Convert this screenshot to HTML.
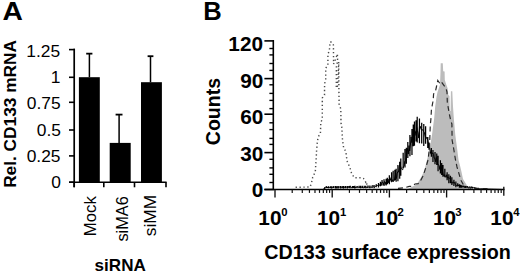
<!DOCTYPE html>
<html><head><meta charset="utf-8"><style>
html,body{margin:0;padding:0;background:#fff;width:520px;height:273px;overflow:hidden}
svg{display:block;font-family:"Liberation Sans", sans-serif}
</style></head><body>
<svg width="520" height="273" viewBox="0 0 520 273" font-family='"Liberation Sans", sans-serif'><rect x="78.9" y="77.2" width="20.9" height="105" fill="#000"/>
<line x1="89.4" y1="77.2" x2="89.4" y2="53.65" stroke="#000" stroke-width="1.5"/>
<line x1="86.2" y1="53.65" x2="92.4" y2="53.65" stroke="#000" stroke-width="1.8"/>
<rect x="109.7" y="142.9" width="21" height="39.3" fill="#000"/>
<line x1="119.1" y1="142.9" x2="119.1" y2="114.6" stroke="#000" stroke-width="1.5"/>
<line x1="115.6" y1="114.6" x2="122.5" y2="114.6" stroke="#000" stroke-width="1.8"/>
<rect x="141" y="82.2" width="20.9" height="100" fill="#000"/>
<line x1="150.5" y1="82.2" x2="150.5" y2="56.2" stroke="#000" stroke-width="1.5"/>
<line x1="147.6" y1="56.2" x2="153.4" y2="56.2" stroke="#000" stroke-width="1.8"/>
<line x1="74.2" y1="48.7" x2="74.2" y2="187.2" stroke="#000" stroke-width="1.7"/>
<line x1="69" y1="49.6" x2="75" y2="49.6" stroke="#000" stroke-width="1.6"/>
<line x1="69" y1="77.3" x2="75" y2="77.3" stroke="#000" stroke-width="1.6"/>
<line x1="69" y1="102.3" x2="75" y2="102.3" stroke="#000" stroke-width="1.6"/>
<line x1="69" y1="130" x2="75" y2="130" stroke="#000" stroke-width="1.6"/>
<line x1="69" y1="155.9" x2="75" y2="155.9" stroke="#000" stroke-width="1.6"/>
<line x1="69" y1="182.2" x2="75" y2="182.2" stroke="#000" stroke-width="1.6"/>
<line x1="69.2" y1="182.2" x2="166.6" y2="182.2" stroke="#000" stroke-width="1.6"/>
<line x1="74.2" y1="182.2" x2="74.2" y2="187.3" stroke="#000" stroke-width="1.6"/>
<line x1="103.8" y1="182.2" x2="103.8" y2="187.3" stroke="#000" stroke-width="1.6"/>
<line x1="134.5" y1="182.2" x2="134.5" y2="187.3" stroke="#000" stroke-width="1.6"/>
<line x1="166" y1="182.2" x2="166" y2="187.3" stroke="#000" stroke-width="1.6"/>
<text transform="translate(26.25,56.7)" font-size="17.40">1.25</text>
<text transform="translate(50.77,83.17)" font-size="17.40">1</text>
<text transform="translate(26.85,109)" font-size="17.40">0.75</text>
<text transform="translate(36.81,135.6)" font-size="17.40">0.5</text>
<text transform="translate(26.65,161.6)" font-size="17.40">0.25</text>
<text transform="translate(51.3,188)" font-size="17.40">0</text>
<text transform="translate(95.54,236.28) rotate(-90) scale(1.0226,1)" font-size="16.40">Mock</text>
<text transform="translate(127.54,241.55) rotate(-90) scale(0.9954,1)" font-size="16.40">siMA6</text>
<text transform="translate(155.54,236.18) rotate(-90) scale(1.0575,1)" font-size="16.40">siMM</text>
<text transform="translate(94.6,270.63) scale(0.9890,1)" font-size="17.28" font-weight="bold">siRNA</text>
<text transform="translate(15.59,187.87) rotate(-90) scale(1.0169,1)" font-size="17.00" font-weight="bold">Rel. CD133 mRNA</text>
<text transform="translate(2.39,19.5) scale(1.0932,1)" font-size="25.80" font-weight="bold">A</text>
<text transform="translate(203.27,19.9) scale(0.9660,1)" font-size="26.47" font-weight="bold">B</text>
<path d="M408 189.5L408 189L410.8 187.5L415 185.3L418 182.5L421 177.6L424.2 171L427 160L429.5 150L432 135L433.3 125L434.2 118L435.2 106.5L436.5 97L437.5 92L438.8 88.3L440 84.7L440.5 72L440.7 63.2L442.8 63.2L443.2 71.3L444.6 71.5L444.8 80L446.4 85L447.6 88.3L448.3 95L449.5 96L449.8 111L450.6 111L450.9 91.2L452.3 91.2L453 106.5L453.8 118L454.4 125L455.3 135L457.3 150L458.5 160L460 165.4L461.5 172L463 179L467 185.5L469 187.2L472 188.3L476 189.2L476 189.5Z" fill="#bcbcbc"/>
<path d="M276 189.5V189.5M277.88 189.5V189.5M280.19 189.5V189.5M282.52 189.5V189.5M284.29 189.5V189.5M285.57 189.5V189.5M287.33 189.5V189.5M289.71 189.5V189.5M291.44 189.5V189.5M292.84 189.5V189.5M294.11 189.5V189.5M295.32 189.5V189.5M296.61 189.5V189.5M298.88 189.5V189.5M300.24 189.5V189.5M302.52 189.5V189.5M303.64 189.5V189.5M305.34 189.5V189.5M306.48 189.5V189.5M307.98 189.5V189.5M309.31 189.5V189.5M311.02 189.5V189.5M312.37 189.5V189.5M314.63 189.5V189.5M315.98 189.5V189.5M317.46 189.5V189.5M319.67 189.5V189.5M321.11 189.5V189.5M322.65 189.5V189.5M324.72 187.23V188.91M326.35 186.24V188.06M328.41 186.26V188.19M330.41 186.28V187.97M331.7 186.23V188.57M333.38 186.24V187.97M335.47 186.04V188.38M336.78 186.23V188.55M338.2 186.07V188.61M340.43 186.09V188.52M342.18 185.94V188.15M343.58 185.91V188.54M345.4 186.02V188.36M347.34 185.92V188.52M348.85 185.91V187.85M350.1 185.82V188.14M352.45 185.98V188.01M353.64 185.95V188.02M354.92 185.86V188.56M357.06 185.9V187.89M359.15 185.78V187.87M360.58 185.74V188.18M362.32 185.75V187.98M364.21 185.67V187.92M365.77 185.73V188.18M367.91 185.58V187.91M369.89 185.53V188.14M372.26 185.2V188.02M374.07 184.97V188.14M376.21 184.16V187.28M378.48 183.07V187.39M380.42 181.74V186.29M382.02 180.07V185.52M384.02 179.36V185.88M386.14 178.85V185.47M387.32 177.74V184.3M389.34 175.18V184.27M391.58 172.23V181.8M393.17 170.81V182.11M394.86 169.73V180.32M396.14 168.87V181.76M397.92 165.04V181.16M399.69 161.7V178.86M400.8 158.4V175.79M403.17 152.75V168.06M404.97 148.98V167.41M406.34 147.75V163.68M407.81 142.01V157.92M409.91 134.99V156.33M411.97 128.93V155.1M413.27 124.41V146.3M414.46 121.55V145.75M416.07 120.27V141.4M417.2 116.84V142.46M419.44 118.42V143.18M421.7 122.66V143.54M423.77 124.09V145.88M425.61 126.3V143.82M427.77 136.91V147.95M429.02 142.53V149.85M431.38 148V156.67M432.96 149.9V162.05M435 152.08V164.21M436.75 153.45V165.11M438.07 155.79V171.27M440.39 160.36V173.47M441.7 163.08V174.93M442.97 164.97V176.65M444.83 168.64V177.18M447.11 172.34V180.22M448.83 174.23V183.2M450.45 175.67V183.26M451.87 177.25V184.92M453.91 179.67V186.09M455.86 181.44V187.37M457.73 183.15V186.37M459.37 184.22V187.72M460.51 184.84V187.64M461.7 185.15V187.65M463.23 185.5V187.39M464.81 185.67V187.82M465.91 185.9V188.1M467.52 186.07V188.01M469.43 186.41V187.84M470.99 186.56V188.26M472.37 186.75V188.14M474.69 187.26V188.26M475.96 187.81V188.67M477.6 188.61V188.76M479.36 188.68V188.83M481.34 188.73V188.88M483.38 188.81V188.93M484.87 188.86V188.98M486.01 188.9V189.02M488.16 188.97V189.05M489.54 189.02V189.1M491.04 189.07V189.16M492.64 189.12V189.2M494.93 189.2V189.26M496.91 189.28V189.31M498.5 189.33V189.35M500.4 189.39V189.41M502.48 189.47V189.47" fill="none" stroke="#000" stroke-width="1.25"/>
<path d="M276 189.5L276.7 189.5L277.4 189.5L278.1 189.5L278.8 189.5L279.5 189.5L280.2 189.5L280.9 189.5L281.6 189.5L282.3 189.5L283 189.5L283.7 189.5L284.4 189.5L285.1 189.5L285.8 189.5L286.5 189.5L287.2 189.5L287.9 189.5L288.6 189.5L289.3 189.5L290 189.5L290.7 189.5L291.4 189.5L292.1 189.5L292.8 189.5L293.5 189.5L294.2 189.5L294.9 189.5L295.6 189.5L296.3 189.5L297 189.5L297.7 189.5L298.4 189.5L299.1 189.5L299.8 189.5L300.5 189.5L301.2 189.5L301.9 189.5L302.6 189.5L303.3 189.5L304 189.5L304.7 189.5L305.4 189.5L306.1 189.5L306.8 189.5L307.5 189.5L308.2 189.5L308.9 189.5L309.6 189.5L310.3 189.5L311 189.5L311.7 189.5L312.4 189.5L313.1 189.5L313.8 189.5L314.5 189.5L315.2 189.5L315.9 189.5L316.6 189.5L317.3 189.5L318 189.5L318.7 189.5L319.4 189.5L320.1 189.5L320.8 189.5L321.5 189.5L322.2 189.5L322.9 189.5L323.6 188.91L324.3 188.26L325 187.72L325.7 186.97L326.4 187L327.1 186.83L327.8 187.98L328.5 187.24L329.2 187.57L329.9 187.35L330.6 187.71L331.3 187.79L332 187.23L332.7 187.42L333.4 186.85L334.1 187.09L334.8 187L335.5 187.1L336.2 187.11L336.9 187.44L337.6 187.11L338.3 187.09L339 187.76L339.7 186.66L340.4 186.64L341.1 186.7L341.8 187.78L342.5 187.46L343.2 187.59L343.9 187.9L344.6 186.87L345.3 187.83L346 186.89L346.7 187.27L347.4 187.49L348.1 187.64L348.8 186.87L349.5 187.18L350.2 186.57L350.9 186.9L351.6 187.88L352.3 187.77L353 187.31L353.7 187.59L354.4 187.75L355.1 186.94L355.8 187.85L356.5 187.09L357.2 186.67L357.9 187.19L358.6 187.27L359.3 187.4L360 187.36L360.7 186.47L361.4 187.3L362.1 187.68L362.8 187.31L363.5 187.73L364.2 187.05L364.9 187.46L365.6 186.48L366.3 187.55L367 186.87L367.7 187.49L368.4 186.66L369.1 187.09L369.8 187.4L370.5 187.17L371.2 187L371.9 187.51L372.6 186.08L373.3 186.05L374 186.74L374.7 187.25L375.4 186.59L376.1 185.63L376.8 184.94L377.5 185.48L378.2 185.34L378.9 185.1L379.6 185.3L380.3 184.01L381 185.56L381.7 183.15L382.4 181.99L383.1 182.55L383.8 184.94L384.5 181.58L385.2 181.97L385.9 184.55L386.6 181.92L387.3 183.53L388 179.08L388.7 182.86L389.4 178.63L390.1 177.74L390.8 180.74L391.5 181.94L392.2 181.4L392.9 179.62L393.6 180.39L394.3 180.57L395 176.98L395.7 173.43L396.4 178.48L397.1 173.82L397.8 171.71L398.5 172.01L399.2 166.38L399.9 165.06L400.6 166.37L401.3 168.69L402 169.15L402.7 169.82L403.4 166.52L404.1 166.1L404.8 161.23L405.5 160.85L406.2 157.95L406.9 151.17L407.6 148.51L408.3 154.1L409 145.58L409.7 150.91L410.4 145L411.1 136.92L411.8 142.58L412.5 138.99L413.2 131.54L413.9 132.23L414.6 131.72L415.3 131.23L416 135.48L416.7 127.27L417.4 130.59L418.1 132.97L418.8 138.11L419.5 125.52L420.2 126.09L420.9 128.86L421.6 129.99L422.3 130L423 129.56L423.7 131.72L424.4 132.5L425.1 136.12L425.8 139.11L426.5 137.36L427.2 137.51L427.9 140.79L428.6 144.88L429.3 146.13L430 149.62L430.7 153.62L431.4 154.54L432.1 152.95L432.8 153.06L433.5 154.43L434.2 158.23L434.9 158.4L435.6 161.72L436.3 157.47L437 159.6L437.7 164.57L438.4 164.72L439.1 165.42L439.8 169.57L440.5 164.64L441.2 166.48L441.9 170.3L442.6 171.42L443.3 175.24L444 176.18L444.7 174.69L445.4 176.73L446.1 177.29L446.8 174.75L447.5 178.23L448.2 177.36L448.9 178.45L449.6 178.11L450.3 178.04L451 182.75L451.7 182.56L452.4 183.17L453.1 181.76L453.8 182.77L454.5 182.41L455.2 184.35L455.9 185.41L456.6 185.53L457.3 186.16L458 184.83L458.7 186.03L459.4 185.17L460.1 186.18L460.8 185.79L461.5 186.57L462.2 186.67L462.9 186.49L463.6 186.59L464.3 187.17L465 186.96L465.7 186.94L466.4 186.65L467.1 186.94L467.8 187.65L468.5 187.84L469.2 187.22L469.9 187.81L470.6 187.86L471.3 187.23L472 187.34L472.7 187.81L473.4 187.49L474.1 188.16L474.8 187.85L475.5 188.27L476.2 188.41L476.9 188.46L477.6 188.73L478.3 188.7L479 188.71L479.7 188.72L480.4 188.78L481.1 188.82L481.8 188.81L482.5 188.87L483.2 188.85L483.9 188.92L484.6 188.88L485.3 188.92L486 188.94L486.7 188.98L487.4 188.99L488.1 189.02L488.8 189.06L489.5 189.07L490.2 189.09L490.9 189.1L491.6 189.14L492.3 189.15L493 189.18L493.7 189.21L494.4 189.22L495.1 189.24L495.8 189.25L496.5 189.29L497.2 189.31L497.9 189.33L498.6 189.34L499.3 189.37L500 189.4L500.7 189.41L501.4 189.44L502.1 189.46L502.8 189.48" fill="none" stroke="#000" stroke-width="1.0" stroke-linejoin="round"/>
<path d="M398 188.4L405 187.6L409.2 186.4L411.6 186.4L415 184L418.2 183.6L420.4 180.9L423.1 175.9L426 167L428 160L429.5 148L429.9 135L430.3 125L431 118L431.4 110L433.2 100L433.6 94L435.5 91L436.4 87L437.8 80.5L440 83.7L441.4 81.9L443.7 85.1L446 88.3L447 92L447.3 102L449.1 112.9L450.6 120L451.9 124L452.1 140L453.9 150L455.5 160L457 167L458.5 172L460.8 180L463.5 185L468 187.5L472 188.2L480 188.4L490 188.8" fill="none" stroke="#2a2a2a" stroke-width="1.2" stroke-dasharray="5 3.4"/>
<path d="M295.6 187.3L310 187L311 184.4L312.1 180.4L312.7 177.3L314.1 174.3L315.3 172L315.5 168.5L316.1 160L316.5 152L317.1 144L318.1 137L320.4 133.5L320.8 122.5L322.3 119L322.3 98L324.5 95L324.6 83.6L325.7 80L325.7 68L327.9 65.5L327.9 54.3L329.4 50.4L329.7 45.9L330.3 41.8L331.6 42.2L333.4 45L333.6 64L335.2 60L337.4 54L337.6 62L336.4 65L336.3 88L337.5 86L338.7 62L338.9 90L339.1 104L340.8 108.9L341 123L341.8 127L342.5 140L343.6 147.5L345.8 151.5L346.5 157L347.3 161.5L349 165.4L350.4 169.2L351.5 173L354.2 177.7L358 177.7L361.2 177.7L363.5 178.5L365.8 182.3L366.5 181.5L367 186.5L375 187.3" fill="none" stroke="#4a4a4a" stroke-width="1.45" stroke-dasharray="1.3 2.6"/>
<line x1="273.3" y1="40.1" x2="273.3" y2="190" stroke="#000" stroke-width="1.6"/>
<line x1="264.4" y1="40.9" x2="274" y2="40.9" stroke="#000" stroke-width="1.6"/>
<line x1="264.4" y1="78.6" x2="274" y2="78.6" stroke="#000" stroke-width="1.6"/>
<line x1="264.4" y1="114.2" x2="274" y2="114.2" stroke="#000" stroke-width="1.6"/>
<line x1="264.4" y1="152.6" x2="274" y2="152.6" stroke="#000" stroke-width="1.6"/>
<line x1="264.4" y1="189.5" x2="274" y2="189.5" stroke="#000" stroke-width="1.6"/>
<line x1="269.4" y1="48.5" x2="274" y2="48.5" stroke="#000" stroke-width="1.4"/>
<line x1="269.4" y1="54.9" x2="274" y2="54.9" stroke="#000" stroke-width="1.4"/>
<line x1="269.4" y1="63.5" x2="274" y2="63.5" stroke="#000" stroke-width="1.4"/>
<line x1="269.4" y1="70.4" x2="274" y2="70.4" stroke="#000" stroke-width="1.4"/>
<line x1="269.4" y1="84.8" x2="274" y2="84.8" stroke="#000" stroke-width="1.4"/>
<line x1="269.4" y1="93.4" x2="274" y2="93.4" stroke="#000" stroke-width="1.4"/>
<line x1="269.4" y1="100.4" x2="274" y2="100.4" stroke="#000" stroke-width="1.4"/>
<line x1="269.4" y1="108.6" x2="274" y2="108.6" stroke="#000" stroke-width="1.4"/>
<line x1="269.4" y1="122.8" x2="274" y2="122.8" stroke="#000" stroke-width="1.4"/>
<line x1="269.4" y1="129.6" x2="274" y2="129.6" stroke="#000" stroke-width="1.4"/>
<line x1="269.4" y1="138.4" x2="274" y2="138.4" stroke="#000" stroke-width="1.4"/>
<line x1="269.4" y1="144.4" x2="274" y2="144.4" stroke="#000" stroke-width="1.4"/>
<line x1="269.4" y1="159.3" x2="274" y2="159.3" stroke="#000" stroke-width="1.4"/>
<line x1="269.4" y1="167.9" x2="274" y2="167.9" stroke="#000" stroke-width="1.4"/>
<line x1="269.4" y1="174.3" x2="274" y2="174.3" stroke="#000" stroke-width="1.4"/>
<line x1="269.4" y1="182.5" x2="274" y2="182.5" stroke="#000" stroke-width="1.4"/>
<line x1="264.4" y1="189.5" x2="504.5" y2="189.5" stroke="#000" stroke-width="1.6"/>
<line x1="275" y1="189.5" x2="275" y2="197.5" stroke="#111" stroke-width="1.35"/>
<line x1="292.22" y1="189.5" x2="292.22" y2="192.9" stroke="#111" stroke-width="1.2"/>
<line x1="302.29" y1="189.5" x2="302.29" y2="192.9" stroke="#111" stroke-width="1.2"/>
<line x1="309.44" y1="189.5" x2="309.44" y2="192.9" stroke="#111" stroke-width="1.2"/>
<line x1="314.98" y1="189.5" x2="314.98" y2="192.9" stroke="#111" stroke-width="1.2"/>
<line x1="319.51" y1="189.5" x2="319.51" y2="192.9" stroke="#111" stroke-width="1.2"/>
<line x1="323.34" y1="189.5" x2="323.34" y2="192.9" stroke="#111" stroke-width="1.2"/>
<line x1="326.66" y1="189.5" x2="326.66" y2="192.9" stroke="#111" stroke-width="1.2"/>
<line x1="329.58" y1="189.5" x2="329.58" y2="192.9" stroke="#111" stroke-width="1.2"/>
<line x1="332.2" y1="189.5" x2="332.2" y2="197.5" stroke="#111" stroke-width="1.35"/>
<line x1="349.42" y1="189.5" x2="349.42" y2="192.9" stroke="#111" stroke-width="1.2"/>
<line x1="359.49" y1="189.5" x2="359.49" y2="192.9" stroke="#111" stroke-width="1.2"/>
<line x1="366.64" y1="189.5" x2="366.64" y2="192.9" stroke="#111" stroke-width="1.2"/>
<line x1="372.18" y1="189.5" x2="372.18" y2="192.9" stroke="#111" stroke-width="1.2"/>
<line x1="376.71" y1="189.5" x2="376.71" y2="192.9" stroke="#111" stroke-width="1.2"/>
<line x1="380.54" y1="189.5" x2="380.54" y2="192.9" stroke="#111" stroke-width="1.2"/>
<line x1="383.86" y1="189.5" x2="383.86" y2="192.9" stroke="#111" stroke-width="1.2"/>
<line x1="386.78" y1="189.5" x2="386.78" y2="192.9" stroke="#111" stroke-width="1.2"/>
<line x1="389.4" y1="189.5" x2="389.4" y2="197.5" stroke="#111" stroke-width="1.35"/>
<line x1="406.62" y1="189.5" x2="406.62" y2="192.9" stroke="#111" stroke-width="1.2"/>
<line x1="416.69" y1="189.5" x2="416.69" y2="192.9" stroke="#111" stroke-width="1.2"/>
<line x1="423.84" y1="189.5" x2="423.84" y2="192.9" stroke="#111" stroke-width="1.2"/>
<line x1="429.38" y1="189.5" x2="429.38" y2="192.9" stroke="#111" stroke-width="1.2"/>
<line x1="433.91" y1="189.5" x2="433.91" y2="192.9" stroke="#111" stroke-width="1.2"/>
<line x1="437.74" y1="189.5" x2="437.74" y2="192.9" stroke="#111" stroke-width="1.2"/>
<line x1="441.06" y1="189.5" x2="441.06" y2="192.9" stroke="#111" stroke-width="1.2"/>
<line x1="443.98" y1="189.5" x2="443.98" y2="192.9" stroke="#111" stroke-width="1.2"/>
<line x1="446.6" y1="189.5" x2="446.6" y2="197.5" stroke="#111" stroke-width="1.35"/>
<line x1="463.82" y1="189.5" x2="463.82" y2="192.9" stroke="#111" stroke-width="1.2"/>
<line x1="473.89" y1="189.5" x2="473.89" y2="192.9" stroke="#111" stroke-width="1.2"/>
<line x1="481.04" y1="189.5" x2="481.04" y2="192.9" stroke="#111" stroke-width="1.2"/>
<line x1="486.58" y1="189.5" x2="486.58" y2="192.9" stroke="#111" stroke-width="1.2"/>
<line x1="491.11" y1="189.5" x2="491.11" y2="192.9" stroke="#111" stroke-width="1.2"/>
<line x1="494.94" y1="189.5" x2="494.94" y2="192.9" stroke="#111" stroke-width="1.2"/>
<line x1="498.26" y1="189.5" x2="498.26" y2="192.9" stroke="#111" stroke-width="1.2"/>
<line x1="501.18" y1="189.5" x2="501.18" y2="192.9" stroke="#111" stroke-width="1.2"/>
<line x1="503.8" y1="186.8" x2="503.8" y2="195.8" stroke="#111" stroke-width="1.35"/>
<text transform="translate(228.36,50.9) scale(1.0500,1)" font-size="19.80" font-weight="bold">120</text>
<text transform="translate(240.25,87.9) scale(1.0500,1)" font-size="19.80" font-weight="bold">90</text>
<text transform="translate(240.25,123.5) scale(1.0500,1)" font-size="19.80" font-weight="bold">60</text>
<text transform="translate(240.25,160.75) scale(1.0500,1)" font-size="19.80" font-weight="bold">30</text>
<text transform="translate(251.79,196.6) scale(1.0500,1)" font-size="19.80" font-weight="bold">0</text>
<text transform="translate(258.35,225.1) scale(1.0500,1)" font-size="19.80" font-weight="bold">10</text>
<text transform="translate(281.15,216.09)" font-size="11.30" font-weight="bold">0</text>
<text transform="translate(316.95,225.1) scale(1.0500,1)" font-size="19.80" font-weight="bold">10</text>
<text transform="translate(339.89,216)" font-size="11.30" font-weight="bold">1</text>
<text transform="translate(374.95,225.1) scale(1.0500,1)" font-size="19.80" font-weight="bold">10</text>
<text transform="translate(397.5,216)" font-size="11.30" font-weight="bold">2</text>
<text transform="translate(432.95,225.1) scale(1.0500,1)" font-size="19.80" font-weight="bold">10</text>
<text transform="translate(455.35,216.06)" font-size="11.30" font-weight="bold">3</text>
<text transform="translate(490.35,225.1) scale(1.0500,1)" font-size="19.80" font-weight="bold">10</text>
<text transform="translate(513.23,215.8)" font-size="11.30" font-weight="bold">4</text>
<text transform="translate(219.8,145.18) rotate(-90)" font-size="19.54" font-weight="bold">Counts</text>
<text transform="translate(264.31,259.39) scale(0.9959,1)" font-size="19.80" font-weight="bold">CD133 surface expression</text></svg>
</body></html>
